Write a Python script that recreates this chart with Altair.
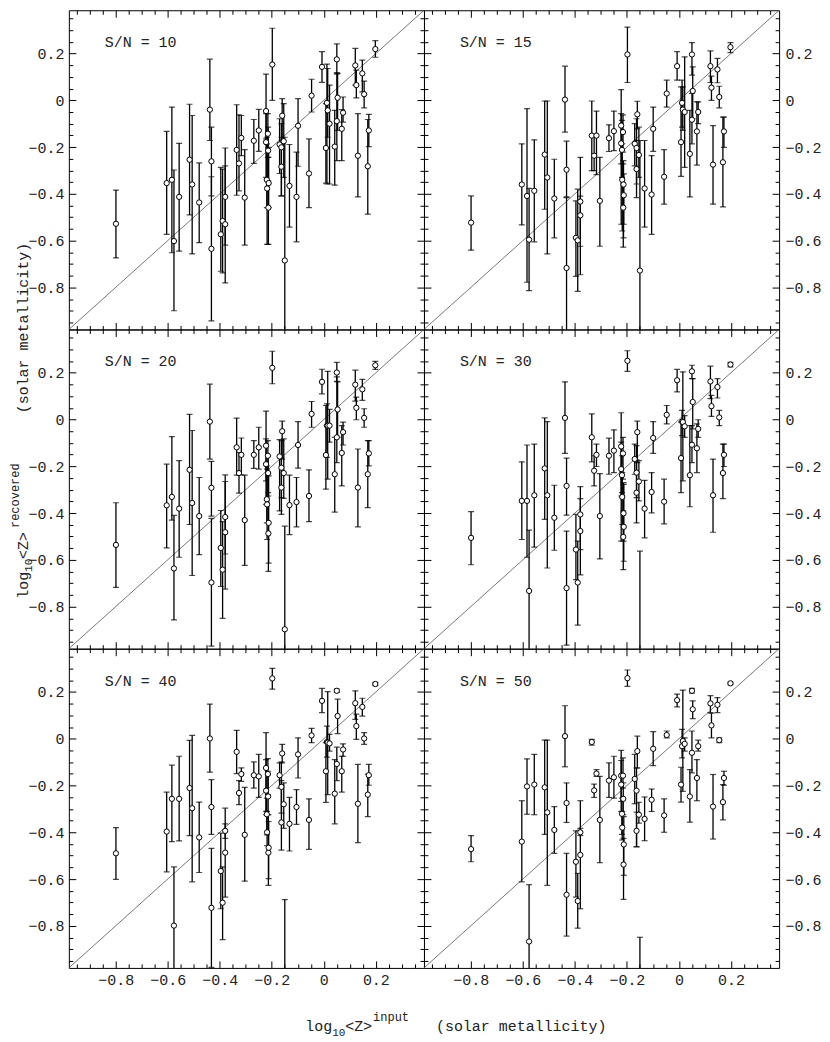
import altair as alt
import pandas as pd

# input metallicity (shared by all panels)
X = [-0.799, -0.604, -0.584, -0.576, -0.556, -0.516, -0.506, -0.479, -0.438, -0.432,
     -0.432, -0.396, -0.389, -0.379, -0.379, -0.335, -0.326, -0.317, -0.304, -0.269,
     -0.250, -0.222, -0.222, -0.215, -0.219, -0.218, -0.213, -0.212, -0.214, -0.198,
     -0.170, -0.163, -0.160, -0.163, -0.154, -0.150, -0.132, -0.105, -0.099, -0.057,
     -0.047, -0.007, 0.008, 0.012, 0.015, 0.022, 0.042, 0.050, 0.050, 0.053,
     0.069, 0.074, 0.121, 0.125, 0.131, 0.148, 0.155, 0.169, 0.173, 0.198]

Y10 = [-0.528, -0.354, -0.340, -0.602, -0.413, -0.254, -0.360, -0.437, -0.040, -0.261,
       -0.635, -0.573, -0.516, -0.413, -0.530, -0.212, -0.270, -0.161, -0.416, -0.173,
       -0.129, -0.046, -0.179, -0.143, -0.340, -0.377, -0.459, -0.354, -0.215, 0.153,
       -0.189, -0.201, -0.066, -0.284, -0.175, -0.685, -0.366, -0.413, -0.109, -0.313,
       0.020, 0.143, -0.204, -0.011, -0.043, -0.100, -0.198, 0.175, -0.089, 0.011,
       -0.122, -0.053, 0.149, 0.065, -0.237, 0.115, 0.026, -0.282, -0.129, 0.219]
HI10 = [-0.384, -0.133, -0.029, -0.298, -0.184, -0.017, -0.065, -0.268, 0.176, -0.115,
        -0.327, -0.287, -0.294, -0.204, -0.280, -0.019, -0.062, -0.065, -0.211, -0.082,
        -0.039, 0.112, -0.057, -0.057, -0.158, -0.186, -0.244, -0.201, -0.115, 0.308,
        -0.079, -0.100, 0.007, -0.158, -0.014, -0.158, -0.189, -0.222, 0.007, -0.165,
        0.090, 0.208, -0.014, 0.155, 0.136, 0.065, -0.043, 0.241, 0.118, 0.115,
        -0.040, 0.014, 0.222, 0.129, -0.057, 0.172, 0.082, -0.082, -0.060, 0.255]
LO10 = [-0.674, -0.573, -0.652, -0.900, -0.645, -0.490, -0.657, -0.609, -0.172, -0.409,
        -0.943, -0.731, -0.738, -0.781, -0.619, -0.406, -0.387, -0.237, -0.619, -0.270,
        -0.218, -0.165, -0.330, -0.244, -0.459, -0.616, -0.616, -0.459, -0.344, 0.000,
        -0.313, -0.409, -0.172, -0.409, -0.330, -1.100, -0.542, -0.605, -0.282, -0.459,
        -0.050, 0.077, -0.354, -0.358, -0.158, -0.358, -0.363, 0.112, -0.258, -0.129,
        -0.258, -0.093, 0.065, 0.010, -0.413, 0.036, -0.032, -0.487, -0.198, 0.184]

Y15 = [-0.523, -0.360, -0.409, -0.596, -0.387, -0.232, -0.330, -0.420, 0.003, -0.297,
       -0.717, -0.588, -0.599, -0.433, -0.492, -0.151, -0.237, -0.151, -0.430, -0.162,
       -0.132, -0.108, -0.184, -0.136, -0.212, -0.340, -0.360, -0.406, -0.459, 0.196,
       -0.186, -0.204, -0.060, -0.294, -0.234, -0.728, -0.377, -0.403, -0.122, -0.327,
       0.029, 0.146, -0.179, -0.011, -0.040, -0.050, -0.229, 0.196, -0.083, 0.040,
       -0.133, -0.050, 0.146, 0.054, -0.275, 0.132, 0.014, -0.265, -0.133, 0.227]
HI15 = [-0.409, -0.186, -0.036, -0.377, -0.169, -0.003, -0.003, -0.252, 0.146, -0.175,
        -0.416, -0.430, -0.380, -0.244, -0.410, -0.003, -0.146, -0.046, -0.244, -0.105,
        -0.046, 0.046, -0.057, -0.062, -0.086, -0.186, -0.258, -0.315, -0.272, 0.313,
        -0.100, -0.079, -0.004, -0.172, -0.115, -0.172, -0.172, -0.237, -0.029, -0.211,
        0.086, 0.208, 0.057, 0.086, 0.057, 0.186, -0.043, 0.247, 0.029, 0.143,
        -0.007, -0.007, 0.211, 0.103, -0.108, 0.179, 0.060, -0.072, -0.072, 0.247]
LO15 = [-0.641, -0.533, -0.778, -0.814, -0.605, -0.466, -0.657, -0.588, -0.136, -0.413,
        -1.100, -0.753, -0.817, -0.746, -0.624, -0.301, -0.301, -0.318, -0.624, -0.219,
        -0.215, -0.530, -0.272, -0.222, -0.330, -0.559, -0.588, -0.530, -0.628, 0.076,
        -0.280, -0.416, -0.122, -0.358, -0.330, -1.100, -0.542, -0.573, -0.218, -0.444,
        -0.029, 0.086, -0.325, -0.115, -0.129, -0.287, -0.413, 0.108, -0.186, -0.079,
        -0.277, -0.100, 0.076, 0.000, -0.444, 0.075, -0.032, -0.456, -0.201, 0.204]

Y20 = [-0.536, -0.367, -0.331, -0.637, -0.381, -0.215, -0.357, -0.413, -0.009, -0.292,
       -0.697, -0.549, -0.642, -0.417, -0.482, -0.119, -0.229, -0.151, -0.430, -0.151,
       -0.119, -0.112, -0.191, -0.155, -0.341, -0.363, -0.487, -0.442, -0.229, 0.221,
       -0.158, -0.206, -0.050, -0.291, -0.229, -0.897, -0.366, -0.353, -0.109, -0.327,
       0.024, 0.161, -0.152, -0.026, -0.026, -0.026, -0.234, 0.201, -0.076, 0.043,
       -0.143, -0.054, 0.149, 0.050, -0.291, 0.129, 0.007, -0.234, -0.145, 0.232]
HI20 = [-0.356, -0.191, -0.073, -0.410, -0.176, 0.022, -0.047, -0.248, 0.151, -0.179,
        -0.423, -0.389, -0.437, -0.237, -0.265, 0.006, -0.141, -0.079, -0.238, -0.090,
        -0.033, 0.036, -0.083, -0.090, -0.198, -0.212, -0.327, -0.241, -0.155, 0.292,
        -0.086, -0.090, -0.007, -0.162, -0.083, -0.456, -0.238, -0.248, -0.009, -0.215,
        0.077, 0.215, 0.060, 0.067, 0.206, 0.043, -0.076, 0.244, 0.182, 0.161,
        -0.026, -0.011, 0.211, 0.096, -0.126, 0.172, 0.046, -0.090, -0.090, 0.249]
LO20 = [-0.718, -0.549, -0.430, -0.857, -0.589, -0.449, -0.667, -0.578, -0.169, -0.413,
        -0.969, -0.714, -0.850, -0.575, -0.725, -0.238, -0.315, -0.237, -0.624, -0.209,
        -0.212, -0.262, -0.363, -0.227, -0.442, -0.513, -0.649, -0.614, -0.313, 0.153,
        -0.391, -0.334, -0.169, -0.406, -0.337, -1.100, -0.492, -0.459, -0.208, -0.437,
        -0.033, 0.110, -0.298, -0.162, -0.255, -0.097, -0.396, 0.163, -0.184, -0.076,
        -0.284, -0.109, 0.079, -0.001, -0.459, 0.082, -0.033, -0.377, -0.198, 0.214]

Y30 = [-0.506, -0.348, -0.348, -0.733, -0.324, -0.209, -0.324, -0.420, 0.007, -0.284,
       -0.721, -0.556, -0.697, -0.406, -0.477, -0.076, -0.219, -0.151, -0.413, -0.155,
       -0.133, -0.115, -0.212, -0.145, -0.238, -0.331, -0.401, -0.459, -0.502, 0.251,
       -0.169, -0.227, -0.054, -0.313, -0.265, -1.050, -0.381, -0.310, -0.079, -0.351,
       0.020, 0.168, -0.165, -0.009, -0.011, -0.029, -0.238, 0.206, -0.108, 0.075,
       -0.123, -0.040, 0.163, 0.057, -0.324, 0.139, 0.009, -0.229, -0.151, 0.235]
HI30 = [-0.394, -0.181, -0.109, -0.473, -0.105, 0.007, -0.009, -0.281, 0.161, -0.165,
        -0.477, -0.406, -0.520, -0.287, -0.338, 0.024, -0.155, -0.105, -0.231, -0.080,
        -0.044, 0.029, -0.097, -0.076, -0.155, -0.227, -0.270, -0.277, -0.391, 0.294,
        -0.105, -0.112, -0.007, -0.173, -0.176, -0.563, -0.260, -0.227, -0.009, -0.255,
        0.060, 0.214, -0.011, 0.039, 0.204, 0.017, -0.026, 0.232, -0.026, 0.175,
        -0.019, -0.001, 0.228, 0.103, -0.169, 0.175, 0.039, -0.105, -0.105, 0.244]
LO30 = [-0.621, -0.513, -0.589, -1.100, -0.546, -0.427, -0.635, -0.559, -0.145, -0.409,
        -0.965, -0.685, -0.879, -0.556, -0.664, -0.181, -0.284, -0.201, -0.596, -0.234,
        -0.227, -0.520, -0.327, -0.255, -0.313, -0.449, -0.520, -0.606, -0.642, 0.206,
        -0.234, -0.442, -0.184, -0.334, -0.348, -1.100, -0.506, -0.399, -0.145, -0.446,
        -0.019, 0.118, -0.313, -0.069, -0.262, -0.076, -0.373, 0.175, -0.184, -0.040,
        -0.227, -0.076, 0.089, 0.013, -0.482, 0.092, -0.026, -0.338, -0.201, 0.225]

Y40 = [-0.490, -0.397, -0.257, -0.799, -0.257, -0.211, -0.297, -0.422, 0.001, -0.292,
       -0.723, -0.566, -0.701, -0.394, -0.487, -0.056, -0.232, -0.151, -0.411, -0.156,
       -0.161, -0.125, -0.222, -0.151, -0.323, -0.400, -0.487, -0.466, -0.247, 0.258,
       -0.156, -0.206, -0.063, -0.358, -0.280, -1.050, -0.364, -0.292, -0.067, -0.347,
       0.014, 0.162, -0.139, -0.014, -0.017, -0.020, -0.235, 0.205, -0.108, 0.097,
       -0.139, -0.046, 0.152, 0.054, -0.278, 0.136, 0.001, -0.239, -0.156, 0.234]
HI40 = [-0.380, -0.228, -0.113, -0.548, -0.075, -0.007, 0.014, -0.271, 0.148, -0.175,
        -0.469, -0.404, -0.548, -0.297, -0.364, 0.036, -0.179, -0.125, -0.208, -0.099,
        -0.067, 0.026, -0.089, -0.085, -0.254, -0.311, -0.325, -0.354, -0.139, 0.301,
        -0.103, -0.099, -0.024, -0.179, -0.189, -0.688, -0.251, -0.218, 0.004, -0.257,
        0.044, 0.215, -0.017, 0.054, 0.201, 0.019, -0.089, 0.212, -0.036, 0.169,
        -0.075, -0.022, 0.205, 0.105, -0.110, 0.173, 0.026, -0.151, -0.110, 0.241]
LO40 = [-0.601, -0.569, -0.440, -1.100, -0.437, -0.414, -0.612, -0.572, -0.143, -0.409,
        -0.978, -0.727, -0.859, -0.426, -0.677, -0.149, -0.282, -0.182, -0.609, -0.211,
        -0.251, -0.311, -0.325, -0.239, -0.411, -0.457, -0.627, -0.598, -0.325, 0.212,
        -0.211, -0.318, -0.103, -0.476, -0.383, -1.100, -0.480, -0.366, -0.168, -0.473,
        -0.017, 0.112, -0.272, -0.079, -0.239, -0.053, -0.364, 0.198, -0.179, 0.022,
        -0.228, -0.075, 0.083, -0.003, -0.444, 0.097, -0.024, -0.333, -0.199, 0.227]

Y50 = [-0.472, -0.440, -0.204, -0.867, -0.196, -0.208, -0.315, -0.390, 0.011, -0.275,
       -0.667, -0.526, -0.694, -0.400, -0.497, -0.014, -0.221, -0.149, -0.347, -0.179,
       -0.165, -0.158, -0.196, -0.158, -0.321, -0.380, -0.538, -0.452, -0.257, 0.259,
       -0.172, -0.222, -0.053, -0.394, -0.325, -1.050, -0.343, -0.261, -0.043, -0.328,
       0.016, 0.165, -0.196, -0.032, -0.010, -0.022, -0.247, 0.205, -0.060, 0.126,
       -0.168, -0.032, 0.151, 0.057, -0.290, 0.145, -0.006, -0.271, -0.168, 0.237]
HI50 = [-0.414, -0.265, -0.086, -0.624, -0.067, -0.006, -0.006, -0.290, 0.141, -0.189,
        -0.490, -0.394, -0.576, -0.383, -0.265, -0.003, -0.194, -0.132, -0.161, -0.103,
        -0.075, -0.050, -0.093, -0.082, -0.254, -0.311, -0.426, -0.333, -0.189, 0.294,
        -0.067, -0.125, 0.011, -0.314, -0.272, -0.849, -0.249, -0.215, 0.030, -0.257,
        0.033, 0.191, -0.122, 0.040, 0.208, 0.004, -0.132, 0.215, 0.033, 0.162,
        -0.089, -0.006, 0.184, 0.109, -0.153, 0.176, 0.004, -0.196, -0.139, 0.242]
LO50 = [-0.526, -0.612, -0.323, -1.100, -0.325, -0.409, -0.627, -0.490, -0.120, -0.358,
        -0.844, -0.677, -0.810, -0.414, -0.727, -0.027, -0.251, -0.161, -0.530, -0.251,
        -0.254, -0.268, -0.311, -0.211, -0.409, -0.433, -0.687, -0.584, -0.325, 0.224,
        -0.278, -0.462, -0.125, -0.462, -0.361, -1.100, -0.436, -0.311, -0.115, -0.400,
        0.004, 0.136, -0.271, -0.082, -0.225, -0.053, -0.357, 0.195, -0.146, 0.086,
        -0.265, -0.053, 0.112, 0.004, -0.429, 0.112, -0.017, -0.347, -0.199, 0.231]

SN_LABELS = ["S/N = 10", "S/N = 15", "S/N = 20", "S/N = 30", "S/N = 40", "S/N = 50"]
DIAG = [-1.0, 0.4]
MAJOR_TICKS = [-0.8, -0.6, -0.4, -0.2, 0.0, 0.2]
MINOR_TICKS = [-0.95, -0.9, -0.85, -0.75, -0.7, -0.65, -0.55, -0.5, -0.45, -0.35, -0.3,
               -0.25, -0.15, -0.1, -0.05, 0.05, 0.1, 0.15, 0.25, 0.3, 0.35]
DOMAIN = [-0.98, 0.385]

W, H = 356, 320
FONT = "Liberation Mono"
INK = "#222"


def tick_axis(orient, offset, values, size):
    return alt.Axis(orient=orient, offset=offset, values=values, tickSize=size,
                    ticks=True, labels=False, domain=False, grid=False, title=None,
                    tickColor="black", tickWidth=1)


def label_axis(orient, pad):
    return alt.Axis(orient=orient, values=MAJOR_TICKS, ticks=False, tickSize=0,
                    domain=False, grid=False, title=None, labelFont=FONT,
                    labelFontSize=15, labelColor=INK, labelPadding=pad,
                    format=".1~f")


def txt(s, x, y, size, angle=0, baseline="alphabetic"):
    return alt.Chart(pd.DataFrame({"t": [s]})).mark_text(
        font=FONT, fontSize=size, align="left", baseline=baseline,
        angle=angle, color=INK).encode(text="t:N", x=alt.value(x), y=alt.value(y))


def panel(idx, ys, his, los):
    row, col = divmod(idx, 2)
    df = pd.DataFrame({"x": X, "y": ys, "hi": his, "lo": los})
    xs = alt.Scale(domain=DOMAIN, nice=False, zero=False)
    yv = alt.Scale(domain=DOMAIN, nice=False, zero=False)
    xlab = label_axis("bottom", 5) if row == 2 else None
    ylab = label_axis("left" if col == 0 else "right", 5 if col == 0 else 6)

    diag = alt.Chart(pd.DataFrame({"d": DIAG})).mark_line(
        color="#555", strokeWidth=0.8, clip=True).encode(
        x=alt.X("d:Q", scale=xs, axis=xlab), y=alt.Y("d:Q", scale=yv, axis=ylab))
    base = alt.Chart(df)
    bars = base.mark_rule(color="black", strokeWidth=1.3, clip=True).encode(
        x=alt.X("x:Q", scale=xs, axis=tick_axis("top", -H, MAJOR_TICKS, 7)),
        y=alt.Y("lo:Q", scale=yv, axis=tick_axis("right", -W, MAJOR_TICKS, 7)),
        y2="hi:Q")
    cap_hi = base.mark_tick(orient="horizontal", size=6, thickness=1.2,
                            color="black", clip=True).encode(
        x=alt.X("x:Q", scale=xs, axis=tick_axis("top", -H, MINOR_TICKS, 4)),
        y=alt.Y("hi:Q", scale=yv, axis=tick_axis("right", -W, MINOR_TICKS, 4)))
    cap_lo = base.mark_tick(orient="horizontal", size=6, thickness=1.2,
                            color="black", clip=True).encode(
        x=alt.X("x:Q", scale=xs, axis=tick_axis("bottom", -H, MAJOR_TICKS, 7)),
        y=alt.Y("lo:Q", scale=yv, axis=tick_axis("left", -W, MAJOR_TICKS, 7)))
    pts = base.mark_point(shape="circle", filled=True, fill="white", stroke="black",
                          strokeWidth=1, size=28, opacity=1, clip=True).encode(
        x=alt.X("x:Q", scale=xs, axis=tick_axis("bottom", -H, MINOR_TICKS, 4)),
        y=alt.Y("y:Q", scale=yv, axis=tick_axis("left", -W, MINOR_TICKS, 4)))
    lab = txt(SN_LABELS[idx], 36, 32, 15, baseline="middle")
    layers = [diag, bars, cap_hi, cap_lo, pts, lab]
    if idx == 2:
        layers += [txt("log", -41, 270, 15, 270), txt("10", -37, 243, 11, 270),
                   txt("<Z>", -41, 230, 15, 270), txt("recovered", -50, 199, 12, 270),
                   txt("(solar metallicity)", -41, 84, 15, 270)]
    if idx == 4:
        layers += [txt("log", 237, 383, 15), txt("10", 264, 388, 11),
                   txt("<Z>", 277, 383, 15), txt("input", 305, 373, 12),
                   txt("(solar metallicity)", 368, 383, 15)]
    return alt.layer(*layers).resolve_axis(x="independent", y="independent").properties(
        width=W, height=H)


series = [(Y10, HI10, LO10), (Y15, HI15, LO15), (Y20, HI20, LO20),
          (Y30, HI30, LO30), (Y40, HI40, LO40), (Y50, HI50, LO50)]
panels = [panel(i, *s) for i, s in enumerate(series)]

chart = alt.concat(*panels, columns=2, spacing=0, bounds="flush").properties(
    padding=0, background="white").configure_view(stroke="black", strokeWidth=1)

chart.save("out.html", embed_options={"renderer": "svg", "actions": False})
